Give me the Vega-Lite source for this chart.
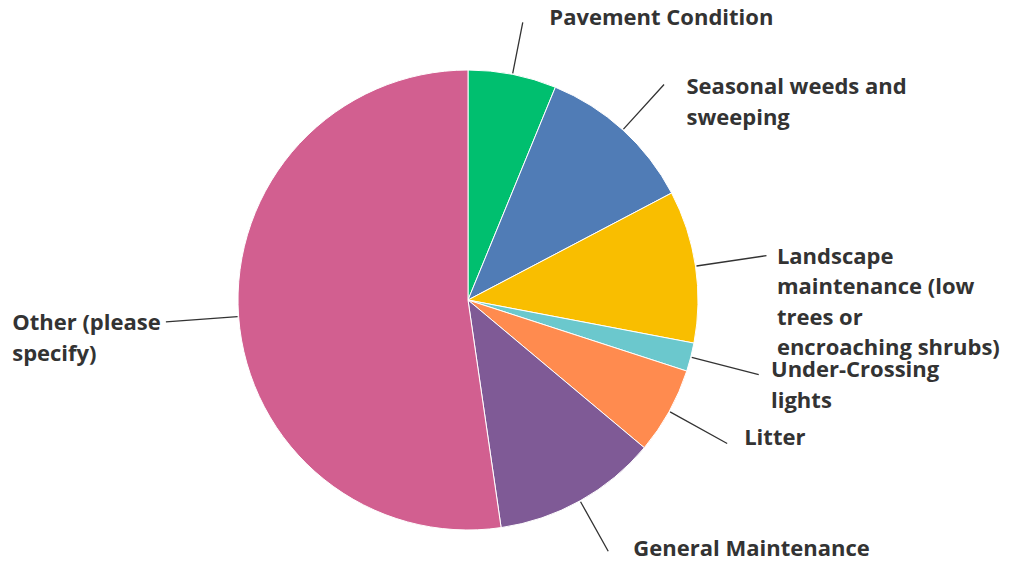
{
  "$schema": "https://vega.github.io/schema/vega-lite/v6.json",
  "width": 936,
  "height": 522,
  "autosize": "none",
  "padding": {"left": 0, "top": 39, "right": 76, "bottom": 0},
  "background": "white",
  "config": {"view": {"stroke": null}},
  "data": {
    "values": [
      {"idx": 1, "category": "Pavement Condition", "label": "Pavement Condition", "pct": 6.2},
      {"idx": 2, "category": "Seasonal weeds and sweeping", "label": "Seasonal weeds and\nsweeping", "pct": 11.1},
      {"idx": 3, "category": "Landscape maintenance (low trees or encroaching shrubs)", "label": "Landscape\nmaintenance (low\ntrees or\nencroaching shrubs)", "pct": 10.7},
      {"idx": 4, "category": "Under-Crossing lights", "label": "Under-Crossing\nlights", "pct": 2.0},
      {"idx": 5, "category": "Litter", "label": "Litter", "pct": 6.1},
      {"idx": 6, "category": "General Maintenance", "label": "General Maintenance", "pct": 11.6},
      {"idx": 7, "category": "Other (please specify)", "label": "Other (please\nspecify)", "pct": 52.3}
    ]
  },
  "transform": [
    {"window": [{"op": "sum", "field": "pct", "as": "cum"}], "sort": [{"field": "idx"}], "frame": [null, 0]},
    {"calculate": "datum.cum - datum.pct / 2", "as": "mid"}
  ],
  "layer": [
    {
      "mark": {"type": "arc", "outerRadius": 230, "stroke": "white", "strokeWidth": 1},
      "encoding": {
        "theta": {"field": "pct", "type": "quantitative", "stack": true, "scale": {"domain": [0, 100]}},
        "order": {"field": "idx", "type": "quantitative"},
        "color": {
          "field": "category",
          "type": "nominal",
          "legend": null,
          "scale": {
            "domain": ["Pavement Condition", "Seasonal weeds and sweeping", "Landscape maintenance (low trees or encroaching shrubs)", "Under-Crossing lights", "Litter", "General Maintenance", "Other (please specify)"],
            "range": ["#00BF6F", "#507CB6", "#F9BE00", "#6BC8CD", "#FF8B4F", "#7F5A96", "#D25F90"]
          }
        }
      }
    },
    {
      "mark": {"type": "arc", "filled": false, "innerRadius": 231, "stroke": "#333333", "strokeWidth": 1.3},
      "encoding": {
        "theta": {"field": "mid", "type": "quantitative", "scale": {"domain": [0, 100]}},
        "theta2": {"field": "mid"},
        "radius": {"field": "mid", "type": "quantitative", "scale": {"type": "linear", "zero": false, "nice": false, "domain": [0, 25, 50, 75, 100], "range": [280, 304, 280, 304, 280]}}
      }
    },
    {
      "transform": [{"filter": "datum.idx < 7"}],
      "mark": {"type": "text", "radius": 286, "align": "left", "baseline": "top", "dx": 26, "dy": -11, "font": "Open Sans", "fontSize": 22, "fontWeight": "bold", "color": "#333333", "lineBreak": "\n", "lineHeight": 30.5},
      "encoding": {
        "theta": {"field": "mid", "type": "quantitative", "stack": false, "scale": {"domain": [0, 100]}},
        "text": {"field": "label"}
      }
    },
    {
      "transform": [{"filter": "datum.idx == 7"}],
      "mark": {"type": "text", "radius": 457, "align": "left", "baseline": "top", "dx": 0, "dy": -20, "font": "Open Sans", "fontSize": 22, "fontWeight": "bold", "color": "#333333", "lineBreak": "\n", "lineHeight": 31}, 
      "encoding": {
        "theta": {"field": "mid", "type": "quantitative", "stack": false, "scale": {"domain": [0, 100]}},
        "text": {"field": "label"}
      }
    }
  ]
}
